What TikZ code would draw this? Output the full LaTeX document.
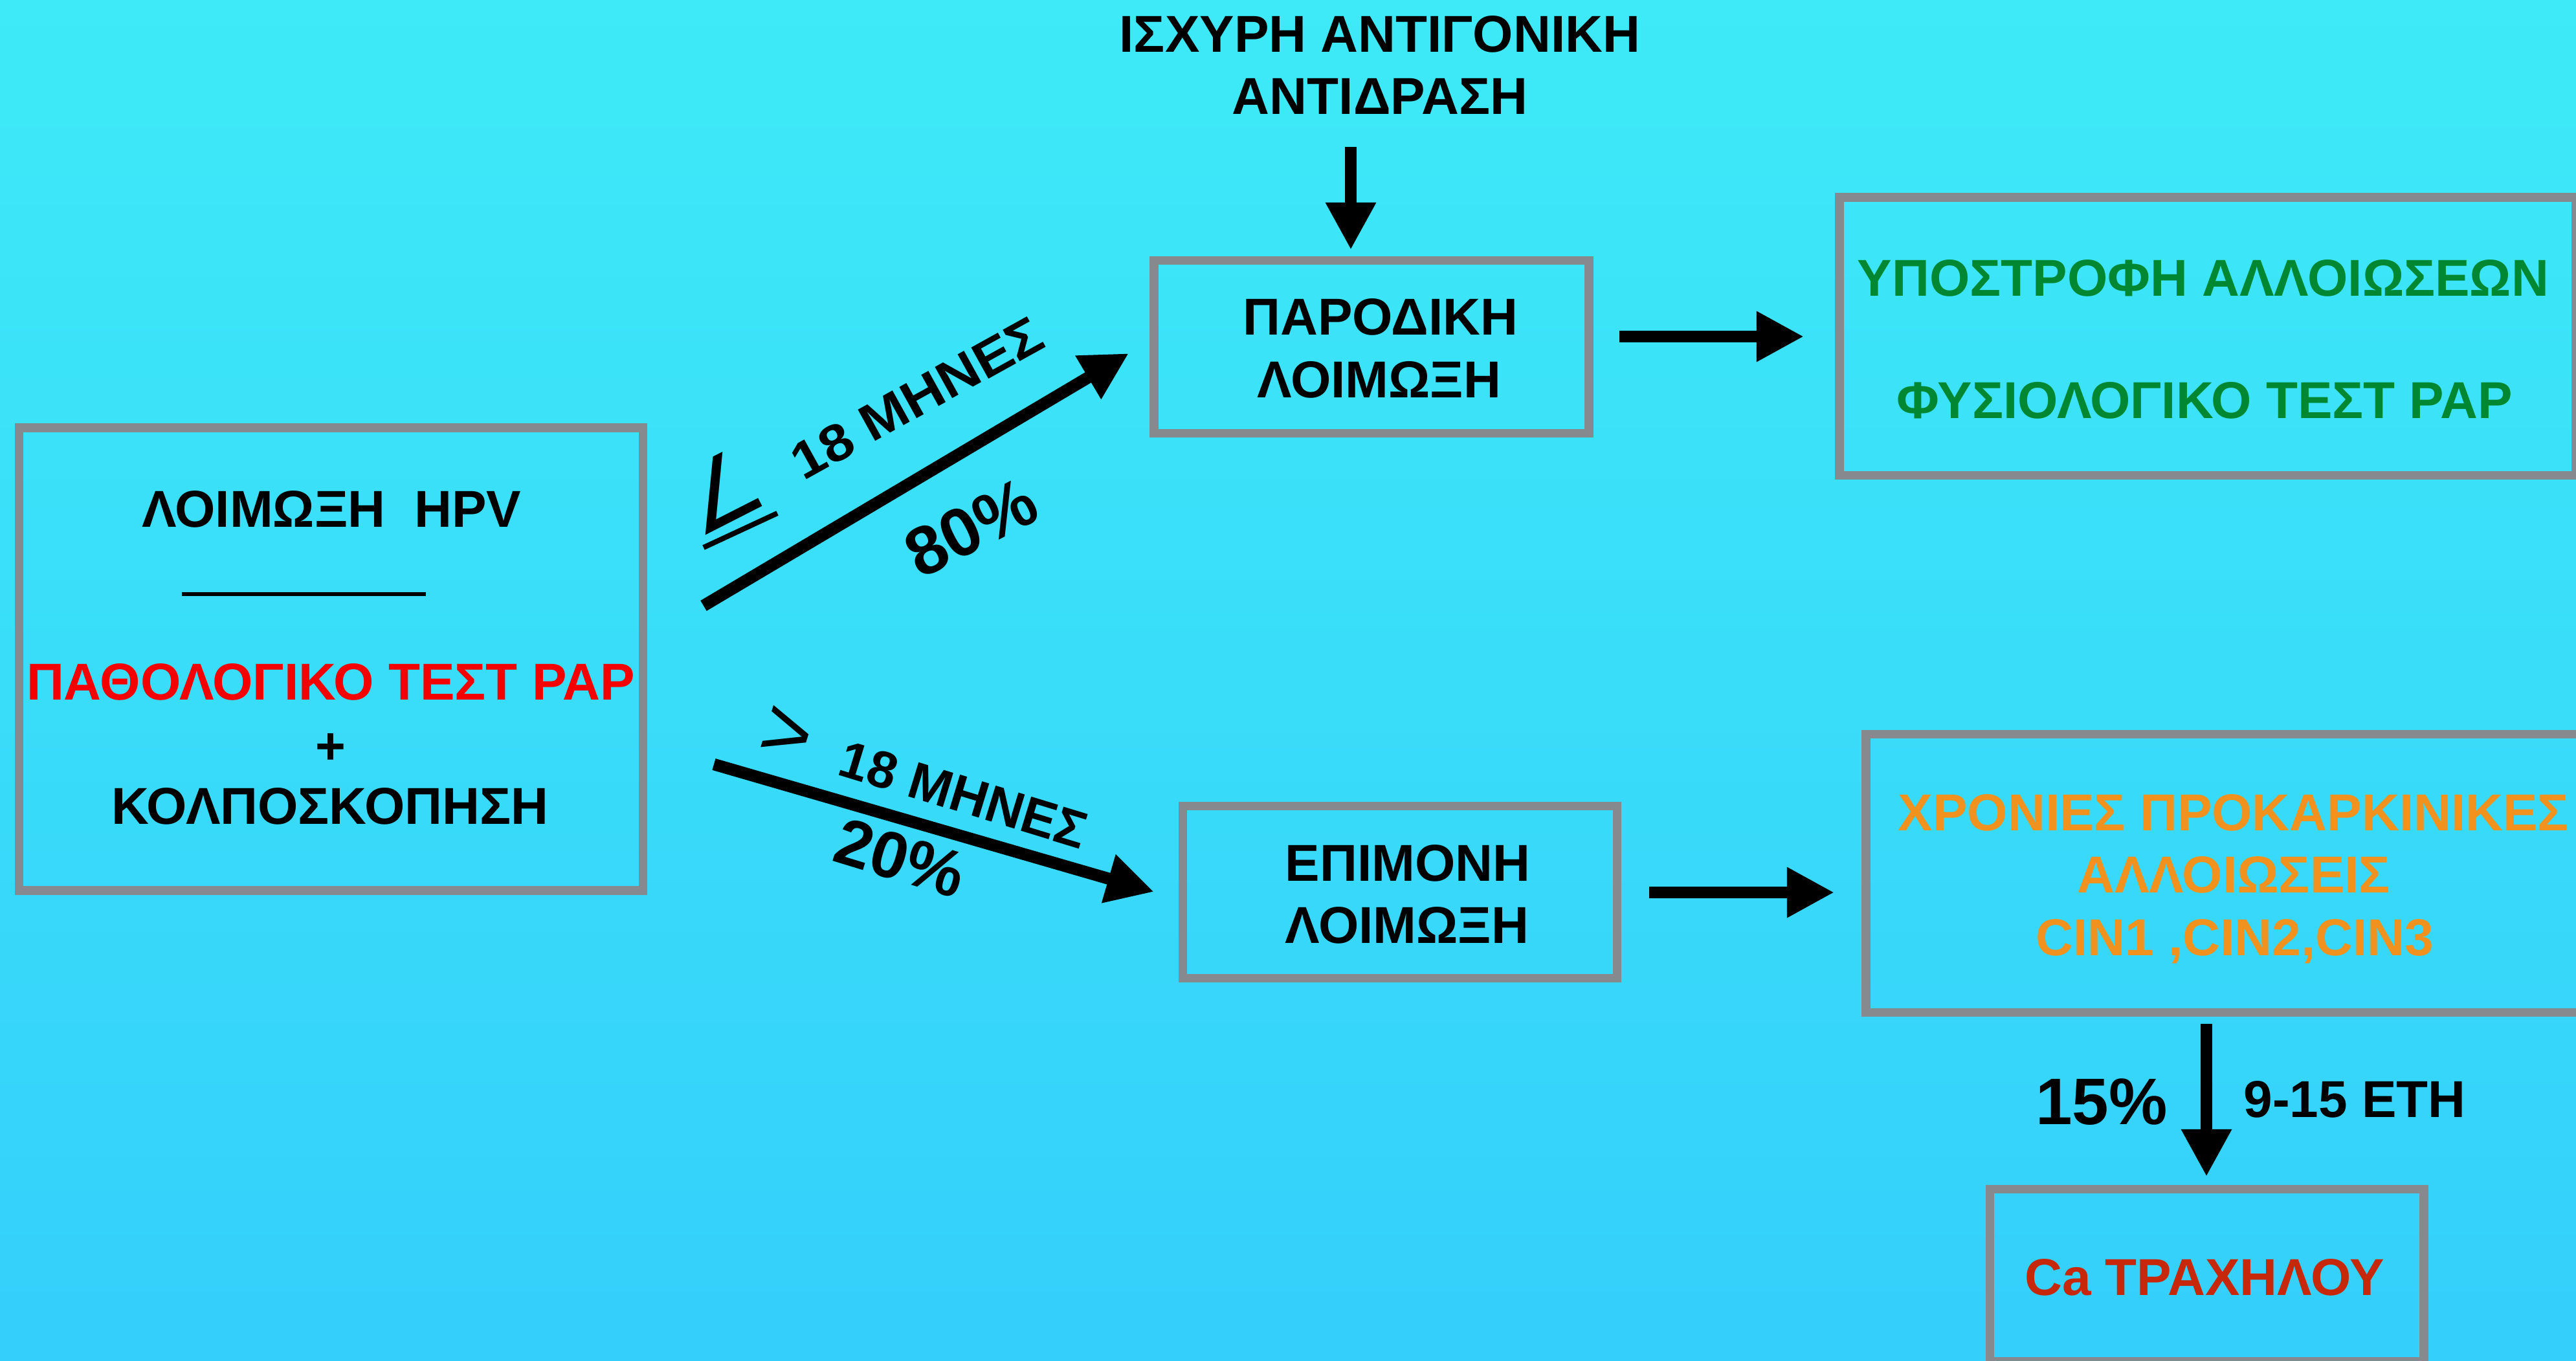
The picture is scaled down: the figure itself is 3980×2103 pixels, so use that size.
\documentclass[tikz,border=0pt]{standalone}
\usepackage{fontspec}
\setmainfont{Liberation Sans}
\newfontfamily\dvs{DejaVu Sans}
\usetikzlibrary{arrows.meta}
\definecolor{bgtop}{RGB}{62,234,247}
\definecolor{bgbot}{RGB}{52,207,251}
\definecolor{boxgray}{RGB}{134,138,143}
\definecolor{txtgreen}{RGB}{0,135,50}
\definecolor{txtorange}{RGB}{242,146,30}
\definecolor{txtred}{RGB}{245,0,0}
\definecolor{txtcarc}{RGB}{200,40,10}
\begin{document}
\begin{tikzpicture}[x=0.01cm,y=-0.01cm,
  box/.style={draw=boxgray, line width=0.135cm, rectangle, inner sep=0pt},
  lbl/.style={inner sep=0pt, anchor=base, font=\fontsize{22.8}{27}\selectfont\bfseries},
  pct/.style={inner sep=0pt, font=\fontsize{28.9}{34}\selectfont\bfseries},
  sym/.style={inner sep=0pt, font=\dvs\fontsize{40}{48}\selectfont},
  arr/.style={line width=0.185cm, -{Triangle[length=0.73cm,width=0.73cm]}},
]
\useasboundingbox (0,0) rectangle (3980,2103);
\clip (0,0) rectangle (3980,2103);
\shade[top color=bgtop,bottom color=bgbot] (0,0) rectangle (3980,2103);

% boxes
\node[box, minimum width=9.63cm, minimum height=7.15cm] (b1) at (511.5,1018.5) {};
\node[box, minimum width=6.715cm, minimum height=2.67cm] (b2) at (2119,536) {};
\node[box, minimum width=11.365cm, minimum height=4.295cm] (b3) at (3410.75,519.75) {};
\node[box, minimum width=6.71cm, minimum height=2.66cm] (b4) at (2163,1378.5) {};
\node[box, minimum width=11.35cm, minimum height=4.30cm] (b5) at (3451,1349.5) {};
\node[box, minimum width=6.705cm, minimum height=2.66cm] (b6) at (3409.75,1970.5) {};

% texts
\node[lbl] (t0a) at (2132,81) {ΙΣΧΥΡΗ ΑΝΤΙΓΟΝΙΚΗ};
\node[lbl] (t0b) at (2132,177) {ΑΝΤΙΔΡΑΣΗ};
\node[lbl] (t2a) at (2133,518) {ΠΑΡΟΔΙΚΗ};
\node[lbl] (t2b) at (2131,614) {ΛΟΙΜΩΞΗ};
\node[lbl,text=txtgreen] (t3a) at (3404,457) {ΥΠΟΣΤΡΟΦΗ ΑΛΛΟΙΩΣΕΩΝ};
\node[lbl,text=txtgreen] (t3b) at (3406,646) {ΦΥΣΙΟΛΟΓΙΚΟ ΤΕΣΤ PAP};
\node[lbl] (t1a) at (512,814) {ΛΟΙΜΩΞΗ\ \ HPV};
\draw[line width=0.06cm] (281,918) -- (658,918);
\node[lbl,text=txtred] (t1b) at (511,1081) {ΠΑΘΟΛΟΓΙΚΟ ΤΕΣΤ PAP};
\node[lbl] (t1c) at (511,1180) {+};
\node[lbl] (t1d) at (510,1273) {ΚΟΛΠΟΣΚΟΠΗΣΗ};
\node[lbl] (t4a) at (2175,1361) {ΕΠΙΜΟΝΗ};
\node[lbl] (t4b) at (2174,1457) {ΛΟΙΜΩΞΗ};
\node[lbl,text=txtorange] (t5a) at (3451,1283) {ΧΡΟΝΙΕΣ ΠΡΟΚΑΡΚΙΝΙΚΕΣ};
\node[lbl,text=txtorange] (t5b) at (3451,1379) {ΑΛΛΟΙΩΣΕΙΣ};
\node[lbl,text=txtorange] (t5c) at (3453,1476) {CIN1 ,CIN2,CIN3};
\node[lbl,text=txtcarc] (t6) at (3406,2001) {Ca ΤΡΑΧΗΛΟΥ};
\node[pct,anchor=base] (p15) at (3247,1737) {15\%};
\node[lbl] (eth) at (3638,1726) {9-15 ΕΤΗ};

% rotated labels
\node[lbl,anchor=center,rotate=29,xscale=1.09] (m1) at (1417,615) {18 ΜΗΝΕΣ};
\node[pct,rotate=27,scale=1.04] (p80) at (1500,815) {80\%};
\node[lbl,anchor=center,rotate=-17] (m2) at (1489,1228) {18 ΜΗΝΕΣ};
\node[pct,rotate=-17] (p20) at (1391,1326) {20\%};
\node[sym,rotate=27] (le) at (1112,758) {∠};
\draw[line width=0.08cm] (1087,846) -- (1201,793);
\node[inner sep=0pt, font=\fontsize{38}{46}\selectfont, rotate=-17] (gt) at (1215,1137) {>};

% arrows
\coordinate (a0s) at (2087,227);  \coordinate (a0e) at (2087,386);
\coordinate (a1s) at (2502,520);  \coordinate (a1e) at (2787,520);
\coordinate (a2s) at (2548,1379); \coordinate (a2e) at (2834,1379);
\coordinate (a3s) at (1087,936);  \coordinate (a3e) at (1744,546);
\coordinate (a4s) at (1103,1181); \coordinate (a4e) at (1783,1378);
\coordinate (a5s) at (3409,1582); \coordinate (a5e) at (3409,1818);
\draw[arr] (a0s) -- (a0e);
\draw[arr] (a1s) -- (a1e);
\draw[arr] (a2s) -- (a2e);
\draw[arr] (a3s) -- (a3e);
\draw[arr] (a4s) -- (a4e);
\draw[arr] (a5s) -- (a5e);
\end{tikzpicture}
\end{document}
